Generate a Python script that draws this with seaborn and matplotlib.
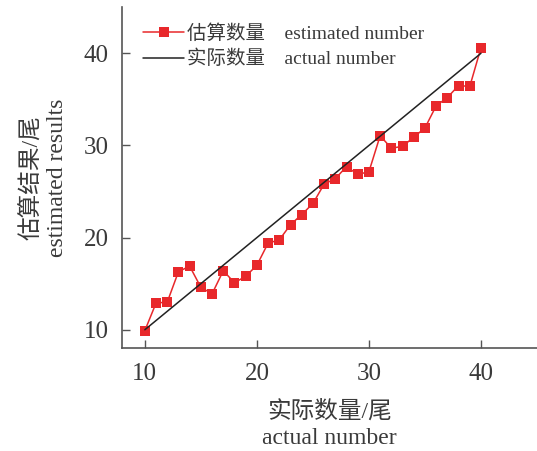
import numpy as np
import pandas as pd
import matplotlib
matplotlib.use("Agg")
import matplotlib.pyplot as plt
import seaborn as sns

# data
actual = list(range(10, 41))
estimated = [9.9, 12.9, 13.0, 16.3, 16.9, 14.6, 13.9, 16.4, 15.1, 15.8,
             17.0, 19.4, 19.75, 21.4, 22.5, 23.7, 25.8, 26.4, 27.7, 26.85,
             27.15, 31.05, 29.7, 29.9, 30.9, 31.9, 34.3, 35.2, 36.5, 36.4,
             40.6]
ideal_x = [10, 40]
ideal_y = [10, 40]

sns.set_theme(style="ticks")
fonts = ["Liberation Serif", "Noto Sans CJK SC"]
plt.rcParams["font.family"] = fonts
text_color = "#3a3a3a"
plt.rcParams["text.color"] = text_color
plt.rcParams["axes.labelcolor"] = text_color
plt.rcParams["xtick.color"] = "#555555"
plt.rcParams["ytick.color"] = "#555555"

df = pd.DataFrame({"actual": actual, "estimated": estimated})
df_line = pd.DataFrame({"x": ideal_x, "y": ideal_y})

fig = plt.figure(figsize=(5.37, 4.51), dpi=100)
ax = fig.add_axes([0.228, 0.228, 0.772, 0.756])

red = "#e8282b"
sns.lineplot(data=df, x="actual", y="estimated", ax=ax, color=red,
             marker="s", markersize=7.8, markeredgewidth=0, linewidth=1.1,
             label="估算数量    estimated number")
sns.lineplot(data=df_line, x="x", y="y", ax=ax, color="#222222",
             linewidth=1.1, label="实际数量    actual number")

ax.set_xlim(8, 45)
ax.set_ylim(8, 45)
ax.set_xticks([10, 20, 30, 40])
ax.set_yticks([10, 20, 30, 40])
ax.tick_params(direction="in", length=6, width=1, labelsize=18,
               labelcolor=text_color)
ax.tick_params(axis="x", pad=11)
ax.tick_params(axis="y", pad=10)
for s in ["top", "right"]:
    ax.spines[s].set_visible(False)
for s in ["left", "bottom"]:
    ax.spines[s].set_color("#555555")
    ax.spines[s].set_linewidth(1.2)

ax.set_xlabel("实际数量/尾\nactual number", fontsize=17, labelpad=11,
              linespacing=1.32)
ax.set_ylabel("估算结果/尾\nestimated results", fontsize=17, labelpad=11,
              linespacing=1.25)

leg = ax.legend(loc="upper left", bbox_to_anchor=(0.05, 0.949),
                frameon=False, fontsize=14, handlelength=2.1,
                handletextpad=0.15, labelspacing=0.35, borderpad=0,
                borderaxespad=0)
for t in leg.get_texts():
    t.set_color(text_color)

fig.savefig("out.png", dpi=100)
plt.close(fig)
